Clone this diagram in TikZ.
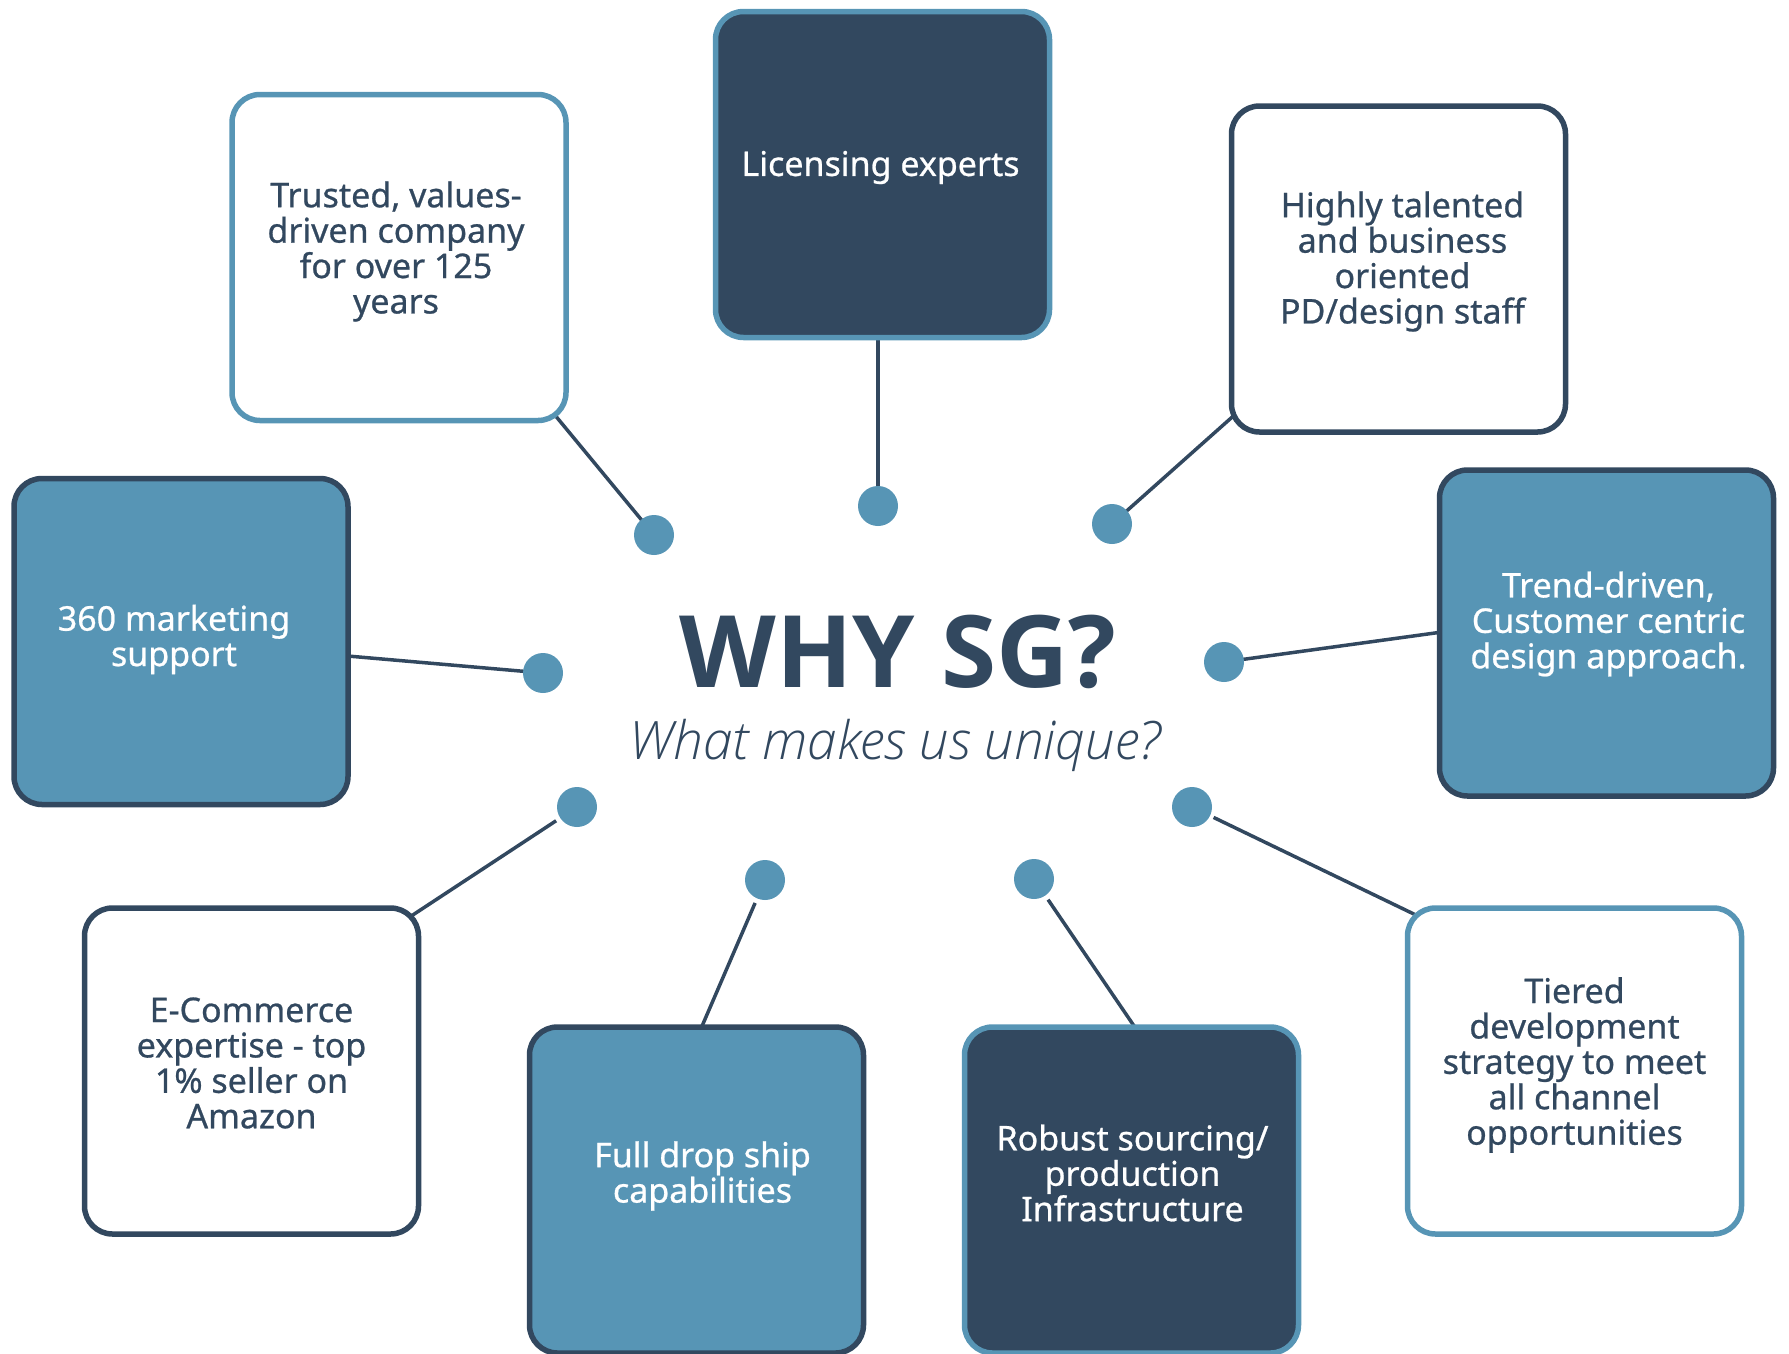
\documentclass[tikz,border=0pt]{standalone}
\usepackage{fontspec}
\setmainfont{Noto Sans}[FakeBold=0.7]
\newfontfamily\titlefont{Open Sans}
\newfontfamily\subfont[ItalicFont={Open Sans Light Italic}]{Open Sans Light}
\usetikzlibrary{calc}
\definecolor{navy}{HTML}{32485F}
\definecolor{steel}{HTML}{5795B5}
\pgfdeclarelayer{background}
\pgfsetlayers{background,main}
\begin{document}
\begin{tikzpicture}[x=1pt,y=-1pt,
  card/.style={rounded corners=28pt, line width=5.5pt, minimum width=334pt, minimum height=326pt, inner sep=0pt},
  cardwhitelight/.style={card, draw=steel, fill=white},
  cardwhitedark/.style={card, draw=navy, fill=white},
  cardsteel/.style={card, draw=navy, fill=steel},
  cardnavy/.style={card, draw=steel, fill=navy},
  txt/.style={align=center, inner sep=0pt, font=\bfseries\fontsize{34}{35.4}\selectfont},
  darktxt/.style={txt, text=navy},
  lighttxt/.style={txt, text=white},
  dot/.style={circle, fill=steel, draw=none, minimum size=40pt, inner sep=0pt},
  conn/.style={draw=navy, line width=3.5pt}]
\useasboundingbox (0,0) rectangle (1789,1353);

% boxes
\node[cardnavy] (lic) at (882.5,174.5) {};
\node[cardwhitelight] (trusted) at (399,257.5) {};
\node[cardwhitedark] (highly) at (1398.5,269) {};
\node[cardsteel] (trend) at (1606.5,633) {};
\node[cardsteel] (m360) at (181,641.5) {};
\node[cardwhitedark] (ecom) at (251.5,1071) {};
\node[cardsteel] (full) at (696.5,1190) {};
\node[cardnavy] (robust) at (1131.5,1190) {};
\node[cardwhitelight] (tiered) at (1574.5,1071) {};

% texts
\node[lighttxt] (licT) at ([xshift=-2pt,yshift=7pt]lic.center) {Licensing experts};
\node[darktxt] (trustedT) at ([xshift=-3pt,yshift=6pt]trusted.center) {Trusted, values-\\driven company\\for over 125\\years};
\node[darktxt] (highlyT) at ([xshift=4pt,yshift=7.5pt]highly.center) {Highly talented\\and business\\oriented\\PD/design staff};
\node[lighttxt] (trendT) at ([xshift=2pt,yshift=9pt]trend.center) {Trend-driven,\\Customer centric\\design approach.};
\node[lighttxt] (m360T) at ([xshift=-7pt,yshift=2pt]m360.center) {360 marketing\\support};
\node[darktxt] (ecomT) at ([yshift=8pt]ecom.center) {E-Commerce\\expertise - top\\1\% seller on\\Amazon};
\node[lighttxt] (fullT) at ([xshift=6pt,yshift=14pt]full.center) {Full drop ship\\capabilities};
\node[lighttxt] (robustT) at ([xshift=1pt,yshift=17pt]robust.center) {Robust sourcing/\\production\\Infrastructure};
\node[darktxt] (tieredT) at ([yshift=6pt]tiered.center) {Tiered\\development\\strategy to meet\\all channel\\opportunities};

% title
\node[text=navy, inner sep=0pt, font=\titlefont\bfseries\fontsize{100}{104}\selectfont, anchor=base] (title) at (898,687) {WHY SG?};
\node[text=navy, inner sep=0pt, font=\subfont\itshape\fontsize{53}{56}\selectfont, anchor=base] (sub) at (895,759) {What makes us unique?};

% dots
\node[dot] (d1) at (654,535) {};
\node[dot] (d2) at (878,506) {};
\node[dot] (d3) at (1112,524) {};
\node[dot] (d4) at (1224,662) {};
\node[dot] (d5) at (543,673) {};
\node[dot] (d6) at (577,807) {};
\node[dot] (d7) at (765,880) {};
\node[dot] (d8) at (1034,879) {};
\node[dot] (d9) at (1192,807) {};

% connectors (behind boxes and dots)
\begin{pgfonlayer}{background}
\draw[conn] (d1.center) -- ([shift={(-36pt,35pt)}]trusted.south east);
\draw[conn] (d2.center) -- (d2 |- lic.center);
\draw[conn] (d3.center) -- (highly.center);
\draw[conn] (d4.center) -- ([xshift=20pt,yshift=3pt]trend.west);
\draw[conn] (d5.center) -- (m360.center);
\draw[conn, shorten <=25pt] (d6.center) -- ([shift={(-18pt,-16pt)}]ecom.north east);
\draw[conn, shorten <=25pt] (d7.center) -- ([xshift=-1pt,yshift=-17pt]full.north);
\draw[conn, shorten <=25pt] (d8.center) -- ([xshift=15pt,yshift=-20pt]robust.north);
\draw[conn, shorten <=24pt] (d9.center) -- ([shift={(22pt,-15pt)}]tiered.north west);
\end{pgfonlayer}
\end{tikzpicture}
\end{document}
